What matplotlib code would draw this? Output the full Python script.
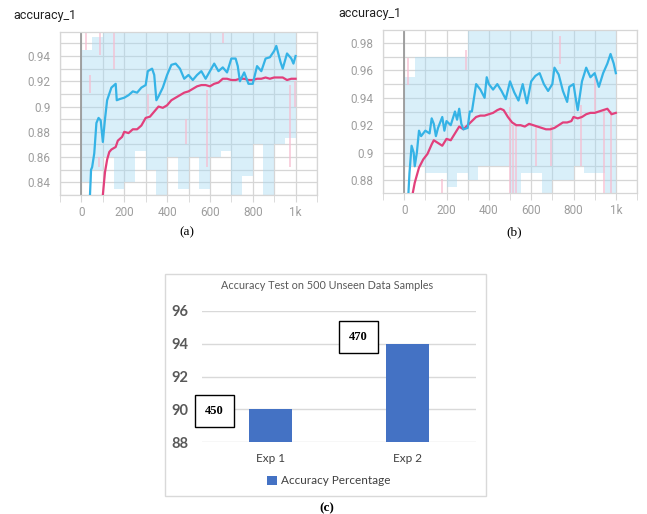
import numpy as np
import matplotlib.pyplot as plt
from matplotlib.patches import Rectangle
from matplotlib.ticker import MultipleLocator, FuncFormatter

# ---- panel (a): smoothed curves ----
a_blue_x = [40, 45, 50, 60, 70, 80, 90, 100, 110, 120, 140, 160, 165, 180, 200, 220, 240, 260, 280, 300,
            310, 330, 340, 350, 360, 380, 400, 420, 440, 460, 480, 500, 520, 540, 560, 580, 600, 620, 640, 660,
            680, 700, 720, 730, 740, 760, 780, 800, 820, 840, 860, 880, 900, 910, 930, 940, 960, 980, 990, 1000]
a_blue_y = [0.830, 0.850, 0.852, 0.863, 0.887, 0.891, 0.889, 0.872, 0.890, 0.905,
            0.915, 0.918, 0.905, 0.906, 0.907, 0.909, 0.912, 0.911, 0.915, 0.917,
            0.928, 0.930, 0.925, 0.905, 0.908, 0.915, 0.925, 0.933, 0.934, 0.930,
            0.922, 0.925, 0.921, 0.925, 0.928, 0.922, 0.928, 0.934, 0.928, 0.931,
            0.927, 0.938, 0.938, 0.932, 0.920, 0.927, 0.918, 0.918, 0.932, 0.928,
            0.938, 0.939, 0.944, 0.948, 0.935, 0.930, 0.942, 0.938, 0.934, 0.940]
a_pink_x = [100, 110, 120, 130, 140, 160, 170, 190, 200, 220, 240, 260, 280, 300, 320, 340, 360, 380, 400,
            420, 440, 460, 480, 500, 520, 540, 560, 580, 600, 620, 640, 660, 680, 700, 720, 740, 760, 780, 800,
            820, 840, 860, 880, 900, 920, 940, 960, 980, 1000]
a_pink_y = [0.830, 0.848, 0.858, 0.864, 0.866, 0.868, 0.873, 0.876, 0.880,
            0.879, 0.882, 0.882, 0.885, 0.891, 0.892, 0.896, 0.900, 0.899, 0.901,
            0.905, 0.907, 0.909, 0.911, 0.912, 0.914, 0.916, 0.917, 0.917, 0.916,
            0.918, 0.919, 0.922, 0.922, 0.921, 0.921, 0.922, 0.922, 0.921, 0.921,
            0.922, 0.922, 0.923, 0.922, 0.923, 0.923, 0.923, 0.921, 0.922, 0.922]

# ---- panel (b): smoothed curves ----
b_blue_x = [20, 25, 35, 45, 50, 60, 70, 80, 100, 120, 130, 140, 150, 160, 180, 190, 200, 220, 240, 250,
            260, 270, 280, 300, 310, 320, 330, 340, 360, 380, 390, 400, 420, 440, 460, 480, 500, 520, 540, 560,
            580, 600, 620, 640, 660, 680, 700, 710, 730, 750, 770, 780, 800, 810, 820, 840, 860, 880, 900, 920,
            940, 960, 975, 990, 1000]
b_blue_y = [0.870, 0.885, 0.905, 0.900, 0.890, 0.900, 0.916, 0.912, 0.916, 0.914,
            0.925, 0.921, 0.912, 0.918, 0.926, 0.916, 0.923, 0.920, 0.930, 0.924,
            0.932, 0.921, 0.917, 0.918, 0.930, 0.930, 0.940, 0.950, 0.946, 0.940,
            0.955, 0.950, 0.946, 0.950, 0.945, 0.939, 0.952, 0.944, 0.938, 0.950,
            0.936, 0.952, 0.956, 0.958, 0.950, 0.945, 0.950, 0.962, 0.957, 0.945,
            0.937, 0.948, 0.950, 0.940, 0.931, 0.952, 0.962, 0.955, 0.958, 0.948,
            0.958, 0.965, 0.972, 0.965, 0.958]
b_pink_x = [40, 50, 70, 90, 110, 130, 140, 160, 180, 200, 220, 240, 260, 280, 300, 320, 340, 360, 380, 400,
            420, 440, 455, 470, 490, 510, 530, 550, 570, 590, 610, 630, 650, 670, 690, 710, 730, 750, 770, 790,
            800, 820, 840, 860, 880, 900, 920, 940, 960, 980, 1000]
b_pink_y = [0.870, 0.878, 0.889, 0.895, 0.899, 0.906, 0.909, 0.907, 0.905, 0.910,
            0.909, 0.914, 0.919, 0.917, 0.920, 0.923, 0.926, 0.927, 0.927, 0.928,
            0.929, 0.931, 0.932, 0.931, 0.926, 0.922, 0.920, 0.920, 0.919, 0.921,
            0.920, 0.919, 0.918, 0.917, 0.917, 0.918, 0.920, 0.922, 0.922, 0.923,
            0.926, 0.925, 0.926, 0.928, 0.929, 0.929, 0.930, 0.931, 0.932, 0.928, 0.929]

# raw (unsmoothed) blue spread, per 50-step bin
raw_x = list(range(0, 1001, 50))
a_raw_lo = [0.84, 0.85, 0.86, 0.835, 0.84, 0.865, 0.85, 0.83, 0.86, 0.835, 0.86,
            0.835, 0.86, 0.865, 0.83, 0.845, 0.87, 0.83, 0.87, 0.875, 0.875]
a_raw_hi = [0.945, 0.955] + [0.97] * 19
b_raw_lo = [0.89, 0.89, 0.885, 0.885, 0.875, 0.885, 0.88, 0.89, 0.89, 0.89, 0.87,
            0.885, 0.885, 0.87, 0.88, 0.88, 0.89, 0.885, 0.885, 0.87, 0.87]
b_raw_hi = [0.955, 0.97, 0.97, 0.97, 0.97, 0.97] + [0.995] * 15

# raw pink spikes
a_spk_x = [22, 42, 80, 88, 150, 310, 490, 585, 660, 972, 995]
a_spk_lo = [0.945, 0.911, 0.852, 0.941, 0.93, 0.894, 0.87, 0.852, 0.95, 0.852, 0.90]
a_spk_hi = [0.96, 0.925, 0.86, 0.96, 0.96, 0.91, 0.89, 0.913, 0.96, 0.917, 0.92]
b_spk_x = [19, 180, 290, 502, 515, 530, 624, 695, 737, 836, 901, 945, 975]
b_spk_lo = [0.949, 0.869, 0.96, 0.869, 0.87, 0.87, 0.89, 0.89, 0.965, 0.89, 0.93, 0.87, 0.87]
b_spk_hi = [0.969, 0.881, 0.975, 0.933, 0.92, 0.92, 0.92, 0.92, 0.985, 0.935, 0.955, 0.93, 0.93]

# ---- panel (c) ----
exp_names = ['Exp 1', 'Exp 2']
exp_acc = [90, 94]
exp_counts = ['450', '470']

BLUE = '#35b3e6'
PINK = '#e2407c'
GRID = '#d6d6d6'
TB_FONT = 'Roboto'


def tb_panel(ax, ylo, yhi, bx, by, px, py, lo, hi, sx, slo, shi):
    ax.set_xlim(-100, 1100)
    ax.set_ylim(ylo, yhi)
    ax.fill_between(raw_x, lo, hi, step='post', color='#a6d9f2', alpha=0.42, lw=0, zorder=1)
    ax.vlines(sx, slo, shi, color='#f7bccf', lw=1.2, alpha=0.8, zorder=1.5)
    ax.axvline(0, color='#9a9a9a', lw=1.3, zorder=2)
    ax.plot(px, py, color=PINK, lw=1.6, zorder=3)
    ax.plot(bx, by, color=BLUE, lw=1.6, zorder=4)

    ax.xaxis.set_major_locator(MultipleLocator(200))
    ax.xaxis.set_minor_locator(MultipleLocator(100))
    ax.yaxis.set_major_locator(MultipleLocator(0.02))
    ax.yaxis.set_minor_locator(MultipleLocator(0.01))
    ax.xaxis.set_major_formatter(FuncFormatter(lambda v, p: '1k' if v == 1000 else f'{v:.0f}'))
    ax.yaxis.set_major_formatter(FuncFormatter(lambda v, p: f'{v:.2f}'.rstrip('0')))
    ax.grid(True, which='both', color=GRID, lw=0.9, zorder=0)
    ax.set_axisbelow(True)
    for s in ax.spines.values():
        s.set_color(GRID)
        s.set_linewidth(0.9)
    ax.tick_params(axis='x', which='both', length=5, color=GRID, labelsize=8.5,
                   labelcolor='#9e9e9e', pad=3)
    ax.tick_params(axis='y', which='both', length=0, labelsize=8.5, labelcolor='#9e9e9e', pad=7)
    for lab in ax.get_xticklabels() + ax.get_yticklabels():
        lab.set_family(TB_FONT)


fig = plt.figure(figsize=(6.47, 5.14), dpi=100)
W, H = 647, 514

ax_a = fig.add_axes([60 / W, 1 - 195 / H, 257 / W, 163 / H])
tb_panel(ax_a, 0.83, 0.959, a_blue_x, a_blue_y, a_pink_x, a_pink_y,
         a_raw_lo, a_raw_hi, a_spk_x, a_spk_lo, a_spk_hi)

ax_b = fig.add_axes([383 / W, 1 - 193 / H, 254 / W, 163 / H])
tb_panel(ax_b, 0.8705, 0.9895, b_blue_x, b_blue_y, b_pink_x, b_pink_y,
         b_raw_lo, b_raw_hi, b_spk_x, b_spk_lo, b_spk_hi)

fig.text(13 / W, 1 - 15 / H, 'accuracy_1', ha='left', va='center', fontsize=9,
         color='#212121', family=TB_FONT)
fig.text(338 / W, 1 - 14 / H, 'accuracy_1', ha='left', va='center', fontsize=9,
         color='#212121', family=TB_FONT)

fig.text(187 / W, 1 - 232 / H, '(a)', ha='center', va='center', family='Liberation Serif', fontsize=9.5)
fig.text(514 / W, 1 - 232 / H, '(b)', ha='center', va='center', family='Liberation Serif', fontsize=9.5)

# ---- panel (c) bar chart ----
fig.patches.append(Rectangle((165 / W, 1 - 496 / H), 321 / W, 222 / H, transform=fig.transFigure,
                             fill=False, ec='#d9d9d9', lw=1))
ax_c = fig.add_axes([202 / W, 1 - 442 / H, 274 / W, 131 / H])
xpos = np.arange(len(exp_names))
ax_c.bar(xpos, exp_acc, width=0.31, color='#4472c4', zorder=3)
ax_c.set_xlim(-0.5, 1.5)
ax_c.set_ylim(88, 96)
ax_c.set_yticks([88, 90, 92, 94, 96])
ax_c.set_xticks(xpos)
ax_c.set_xticklabels(exp_names)
ax_c.grid(axis='y', color='#d9d9d9', lw=1, zorder=0)
for s in ax_c.spines.values():
    s.set_visible(False)
ax_c.tick_params(axis='y', length=0, pad=10, labelsize=10.5, labelcolor='#595959')
ax_c.tick_params(axis='x', length=0, pad=8, labelsize=8.5, labelcolor='#404040')
for lab in ax_c.get_yticklabels():
    lab.set_family('Lato')
    lab.set_fontweight('bold')
for lab in ax_c.get_xticklabels():
    lab.set_family('Lato')
ax_c.set_title('Accuracy Test on 500 Unseen Data Samples', fontsize=7.8, color='#595959',
               family='Lato', x=(327 - 202) / 274, y=1.0, pad=16)

box_pos = [(-0.41, 89.89), (0.642, 94.41)]
for (bx_, by_), txt in zip(box_pos, exp_counts):
    ax_c.text(bx_, by_, txt, ha='center', va='center', fontsize=9, fontweight='bold',
              family='Liberation Serif', zorder=5, clip_on=False,
              bbox=dict(boxstyle='square,pad=0.8', fc='white', ec='black', lw=1))

leg = ax_c.legend(['Accuracy Percentage'], loc='center', bbox_to_anchor=((329 - 202) / 274, -39 / 131),
                  frameon=False, handlelength=0.8, handleheight=0.8, handletextpad=0.4,
                  prop={'family': 'Lato', 'size': 8.5})
for t in leg.get_texts():
    t.set_color('#404040')

fig.text(327 / W, 1 - 508 / H, '(c)', ha='center', va='center', family='Liberation Serif',
         fontsize=9.5, fontweight='bold')

fig.savefig('out.png', dpi=100)
